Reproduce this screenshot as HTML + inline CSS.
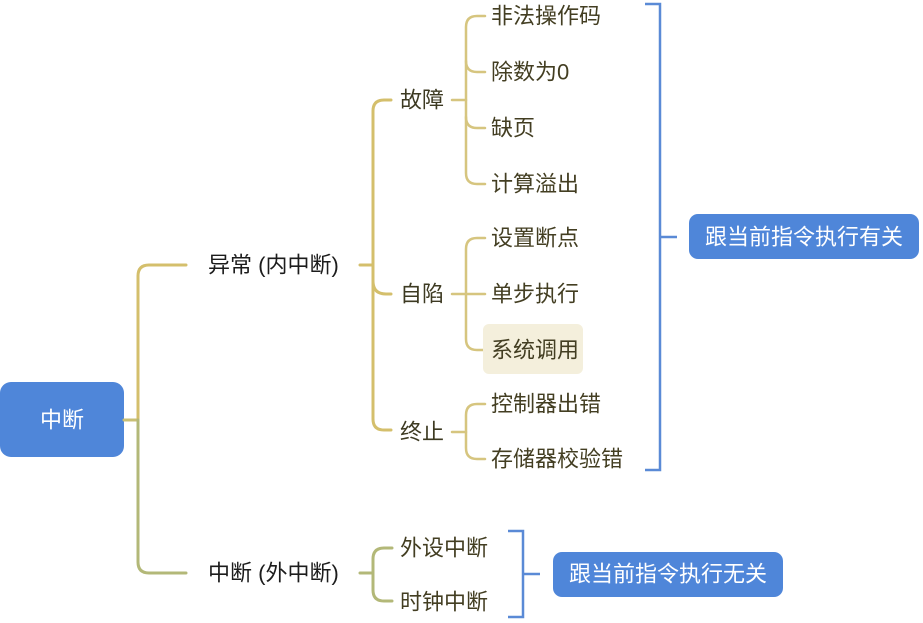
<!DOCTYPE html>
<html><head><meta charset="utf-8">
<style>
html,body{margin:0;padding:0;background:#fff;}
svg{display:block;}
text{font-family:"Liberation Sans","Noto Sans CJK SC",sans-serif;font-size:22px;dominant-baseline:central;}
.l1{fill:#1c1c1c;}
.l2{fill:#3d3a22;}
.lf{fill:#433e22;}
.w{fill:#fff;}
</style></head>
<body>
<svg width="923" height="623" viewBox="0 0 923 623" xmlns="http://www.w3.org/2000/svg">
<rect width="923" height="623" fill="#fff"/>
<!-- root box -->
<rect x="0" y="382" width="124" height="75" rx="11" fill="#4f86d9"/>
<text x="62" y="420" text-anchor="middle" class="w">中断</text>

<!-- root connectors -->
<g fill="none" stroke-width="3" stroke-linecap="round">
<path d="M124,420 H138" stroke="#c9bf74"/>
<path d="M138,420 V276 Q138,265 149,265 H186" stroke="#d4bf6c"/>
<path d="M138,420 V562 Q138,573 149,573 H186" stroke="#b3b878"/>
</g>

<!-- level 1 labels -->
<text x="208" y="265" class="l1">异常 (内中断)</text>
<text x="208" y="573" class="l1">中断 (外中断)</text>

<!-- 异常 connectors -->
<g fill="none" stroke="#d4bf6c" stroke-width="3" stroke-linecap="round">
<path d="M360,265 H373"/>
<path d="M391,100 H384 Q373,100 373,111 V419 Q373,430 384,430 H391"/>
<path d="M373,281 Q373,294 386,294 H391"/>
</g>
<text x="400" y="100" class="l2">故障</text>
<text x="400" y="294" class="l2">自陷</text>
<text x="400" y="432" class="l2">终止</text>

<!-- level 2 connectors -->
<g fill="none" stroke="#d6c57f" stroke-width="2.5" stroke-linecap="round">
<path d="M452,100 H466"/>
<path d="M485,16 H477 Q466,16 466,27 V173 Q466,184 477,184 H485"/>
<path d="M466,61 Q466,72 477,72 H485"/>
<path d="M466,117 Q466,128 477,128 H485"/>
<path d="M452,294 H466"/>
<path d="M485,238 H477 Q466,238 466,249 V339 Q466,350 477,350 H485"/>
<path d="M466,294 H485"/>
<path d="M452,432 H466"/>
<path d="M485,404 H477 Q466,404 466,415 V448 Q466,459 477,459 H485"/>
</g>

<!-- highlight -->
<rect x="483" y="324" width="100" height="50" rx="6" fill="#f4efdc"/>

<!-- leaves -->
<text x="491" y="16" class="lf">非法操作码</text>
<text x="491" y="72" class="lf">除数为0</text>
<text x="491" y="128" class="lf">缺页</text>
<text x="491" y="184" class="lf">计算溢出</text>
<text x="491" y="238" class="lf">设置断点</text>
<text x="491" y="294" class="lf">单步执行</text>
<text x="491" y="350" class="lf">系统调用</text>
<text x="491" y="404" class="lf">控制器出错</text>
<text x="491" y="459" class="lf">存储器校验错</text>

<!-- bottom connectors -->
<g fill="none" stroke="#b3b878" stroke-width="3" stroke-linecap="round">
<path d="M360,573 H373"/>
<path d="M392,548 H384 Q373,548 373,559 V590 Q373,601 384,601 H392"/>
</g>
<text x="400" y="548" class="lf">外设中断</text>
<text x="400" y="602" class="lf">时钟中断</text>

<!-- brackets -->
<g fill="none" stroke="#5a8ad6" stroke-width="2.5">
<path d="M645,4 H660 V470 H645"/>
<path d="M660,237 H677"/>
<path d="M508,531 H523 V617 H508"/>
<path d="M523,574 H540"/>
</g>

<!-- summary boxes -->
<rect x="689" y="214" width="230" height="45" rx="9" fill="#4f86d9"/>
<text x="804" y="237" text-anchor="middle" class="w">跟当前指令执行有关</text>
<rect x="553" y="552" width="230" height="45" rx="9" fill="#4f86d9"/>
<text x="668" y="574" text-anchor="middle" class="w">跟当前指令执行无关</text>
</svg>
</body></html>
